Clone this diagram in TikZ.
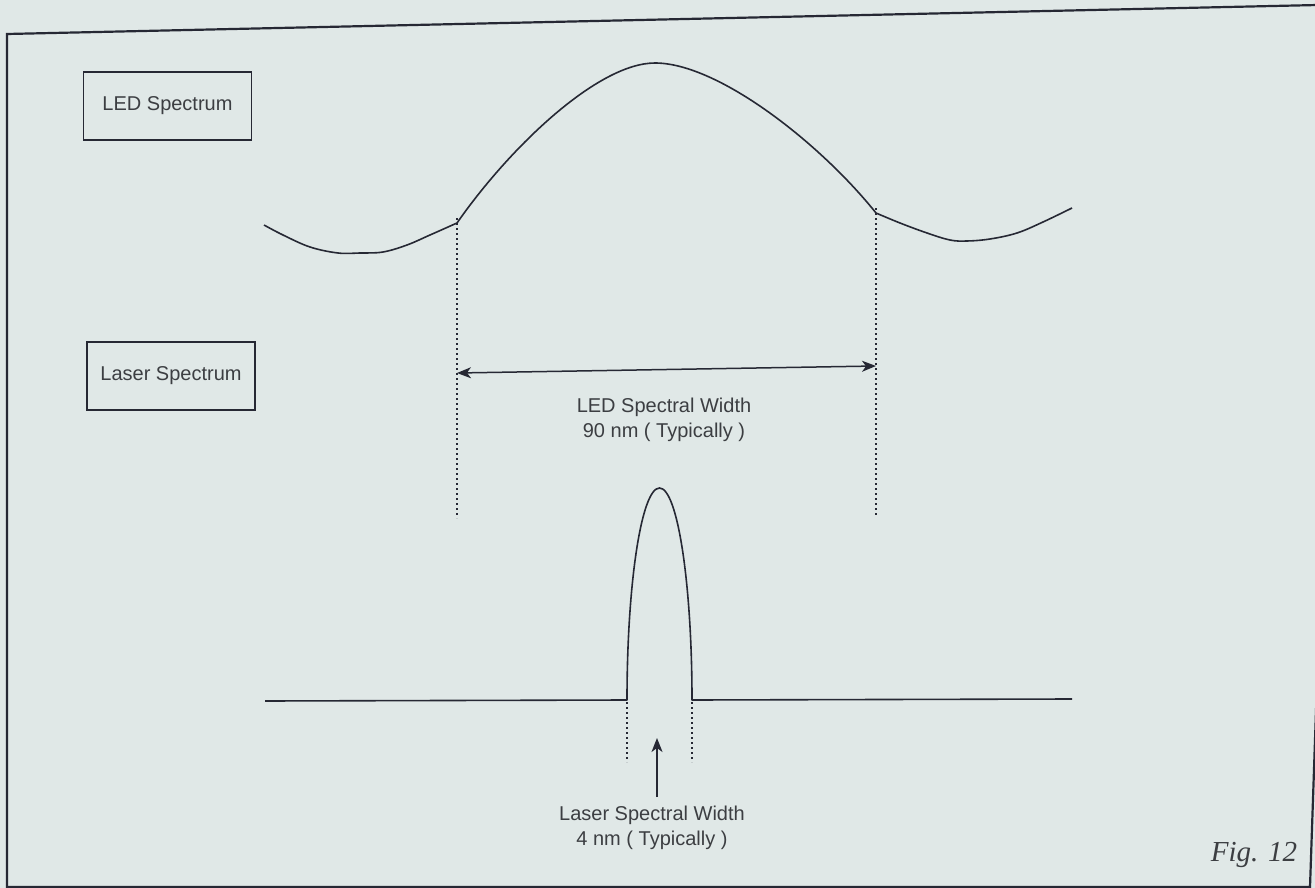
\documentclass[tikz,border=0pt]{standalone}
\usepackage{fontspec}
\setmainfont{Liberation Sans}
\newfontfamily\figfont{Liberation Serif}
\usetikzlibrary{arrows.meta}
\definecolor{paper}{RGB}{224,232,231}
\definecolor{ink}{RGB}{38,40,52}
\definecolor{txt}{RGB}{60,62,66}
\tikzset{
  curve/.style={draw=ink, line width=1.6pt, line join=round},
  dotline/.style={draw=ink, line width=2pt, dash pattern=on 2pt off 3pt},
  labelbox/.style={draw=ink, line width=1.8pt, minimum width=168pt, minimum height=68pt, inner sep=0pt, text=txt, font=\fontsize{20}{22}\selectfont},
  lbl/.style={text=txt, font=\fontsize{20}{25}\selectfont, align=center, inner sep=0pt},
  arr/.style={draw=ink, line width=1.5pt, -{Stealth[length=14pt,width=11pt,inset=4pt]}},
}
\begin{document}
\begin{tikzpicture}[x=1pt,y=-1pt]
\useasboundingbox (0,0) rectangle (1315,888);
\fill[paper] (0,0) rectangle (1315,888);
\begin{scope}
\clip (0,0) rectangle (1315,888);
% frame
\draw[ink, line width=2.2pt] (7,888) -- (7,34) -- (1318,5);
\draw[ink, line width=2.2pt] (1340,5) -- (1310,887) -- (7,887);
\end{scope}
% boxes
\node[labelbox] (led) at (167.5,106) {LED Spectrum};
\node[labelbox] (laser) at (171,376) {Laser Spectrum};
% LED curve
\coordinate (kl) at (457,223);
\coordinate (kr) at (876,213);
\coordinate (peak) at (655,63);
\draw[curve] plot[smooth, tension=0.6] coordinates {(264,225) (283,235) (310,247) (338,253) (360,253) (383,252) (407,245) (430,235) (457,223)};
\draw[curve] (kl) .. controls (510,147) and (598,63) .. (peak) .. controls (718,63) and (820,143) .. (kr);
\draw[curve] plot[smooth, tension=0.6] coordinates {(876,213) (900,223) (927,233) (950,240) (967,241) (990,239) (1017,233) (1043,222) (1072,208)};
% LED dotted lines
\coordinate (kl2) at (457,518);
\coordinate (kr2) at (876,516);
\draw[dotline] ([yshift=5pt]kl) -- (kl2);
\draw[dotline] ([yshift=5pt]kr) -- (kr2);
% double arrow
\coordinate (al) at (457,373);
\coordinate (ar) at (876,366);
\draw[draw=ink, line width=1.5pt, {Stealth[length=14pt,width=11pt,inset=4pt]}-{Stealth[length=14pt,width=11pt,inset=4pt]}] (al) -- (ar);
\node[lbl] (ledw) at (664,420) {LED Spectral Width\\90 nm ( Typically )};
% laser spectrum
\coordinate (bl) at (627,700);
\coordinate (br) at (692,700);
\draw[curve] (265,701) -- (bl) arc[start angle=180, end angle=360, x radius=32.5, y radius=212] -- (br) -- (1072,699);
\coordinate (bl2) at (627,762);
\coordinate (br2) at (692,762);
\draw[dotline] ([yshift=8pt]bl) -- (bl2);
\draw[dotline] ([yshift=8pt]br) -- (br2);
\coordinate (ub) at (657,797);
\coordinate (ut) at (657,738);
\draw[arr] (ub) -- (ut);
\node[lbl] (lasw) at (652,828) {Laser Spectral Width\\4 nm ( Typically )};
% figure label
\node[text=txt, font=\figfont\itshape\fontsize{29}{30}\selectfont, inner sep=0pt] (fig) at (1254,855) {Fig. 12};
\end{tikzpicture}
\end{document}
